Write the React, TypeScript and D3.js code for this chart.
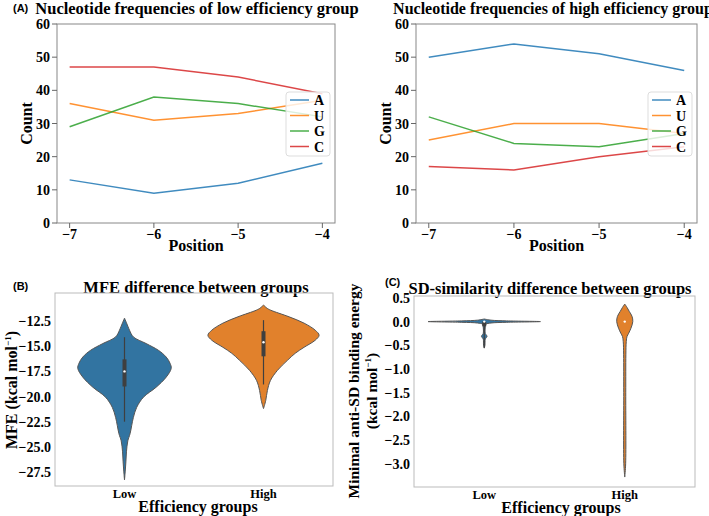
import React from "react";
import * as d3 from "d3";

// ---------- Data ----------
const positions = [-7, -6, -5, -4];
const nucleotides = ["A", "U", "G", "C"];
const lowA = [13, 9, 12, 18];
const lowU = [36, 31, 33, 37];
const lowG = [29, 38, 36, 32];
const lowC = [47, 47, 44, 39];
const highA = [50, 54, 51, 46];
const highU = [25, 30, 30, 27];
const highG = [32, 24, 23, 27];
const highC = [17, 16, 20, 23];
const countTicks = [0, 10, 20, 30, 40, 50, 60];

const groups = ["Low", "High"];
// violin profiles: [value, relative density]
const mfeLowProfile: [number, number][] = [
  [-12.2, 0], [-12.6, 0.03], [-13.0, 0.06], [-13.4, 0.09], [-14.07, 0.16], [-14.73, 0.39],
  [-15.4, 0.61], [-16.07, 0.75], [-16.7, 0.82], [-17.2, 0.84], [-18.07, 0.75], [-19.07, 0.57],
  [-20.07, 0.34], [-21.07, 0.22], [-22.07, 0.16], [-23.7, 0.1], [-24.4, 0.06], [-25.5, 0.035],
  [-26.5, 0.025], [-27.5, 0.012], [-28.3, 0],
];
const mfeHighProfile: [number, number][] = [
  [-10.9, 0], [-11.2, 0.06], [-11.4, 0.125], [-12.07, 0.46], [-12.7, 0.73], [-13.4, 0.93],
  [-13.9, 1.0], [-14.4, 0.93], [-15.1, 0.73], [-15.7, 0.57], [-16.4, 0.43], [-17.4, 0.25],
  [-18.4, 0.125], [-19.4, 0.07], [-20.4, 0.04], [-21.2, 0],
];
// inner box: [whiskerTop, q3, median, q1, whiskerBottom]
const mfeLowBox = [-14.1, -16.3, -17.5, -19.0, -22.5];
const mfeHighBox = [-12.4, -13.5, -14.6, -16.0, -18.8];
const mfeTicks = [-27.5, -25.0, -22.5, -20.0, -17.5, -15.0, -12.5];

const sdLowProfile: [number, number][] = [
  [0.055, 0], [0.03, 0.12], [0.015, 0.4], [0, 1.0], [-0.015, 0.4], [-0.03, 0.12],
  [-0.055, 0.03], [-0.1, 0.02], [-0.25, 0.018], [-0.28, 0.035], [-0.31, 0.05], [-0.34, 0.035],
  [-0.37, 0.018], [-0.5, 0.012], [-0.56, 0],
];
const sdHighProfile: [number, number][] = [
  [0.37, 0], [0.3, 0.04], [0.21, 0.083], [0.11, 0.13], [0, 0.143], [-0.14, 0.11],
  [-0.245, 0.07], [-0.316, 0.04], [-0.42, 0.027], [-0.7, 0.02], [-1.5, 0.018],
  [-3.0, 0.016], [-3.28, 0],
];
const sdLowBox = [0, 0, 0, -0.1, -0.55];
const sdHighBox = [0, 0, 0, 0, 0];
const sdTicks = [-3.0, -2.5, -2.0, -1.5, -1.0, -0.5, 0.0, 0.5];

// ---------- Styles ----------
const serif = "'Liberation Serif', 'Times New Roman', serif";
const sans = "'Liberation Sans', Arial, sans-serif";
const lineColors = ["#1f77b4", "#ff7f0e", "#2ca02c", "#d62728"];
const violinColors = ["#3274a1", "#e1812c"];

const fmtMinus = (s: string) => s.replace("-", "\u2212");

function LinePanel({ x0, x1, y0, y1, series, title, titleX, titleSize }: any) {
  const x = d3.scaleLinear().domain([-7.15, -3.85]).range([x0, x1]);
  const y = d3.scaleLinear().domain([0, 60]).range([y1, y0]);
  const line = d3.line<number>().x((_, i) => x(positions[i])).y((d) => y(d));
  const lx = x1 - 49;
  const ly = 92;
  return (
    <g>
      <text x={titleX} y={14} textAnchor="middle" fontFamily={serif} fontWeight="bold" fontSize={titleSize}>
        {title}
      </text>
      {series.map((s: number[], i: number) => (
        <path key={i} d={line(s) || ""} fill="none" stroke={lineColors[i]} strokeWidth={1.5} strokeOpacity={0.85} />
      ))}
      <rect x={x0} y={y0} width={x1 - x0} height={y1 - y0} fill="none" stroke="#888" strokeWidth={1} />
      {countTicks.map((t) => (
        <g key={t}>
          <line x1={x0 - 5} x2={x0} y1={y(t)} y2={y(t)} stroke="#666" />
          <text x={x0 - 7} y={y(t) + 5} textAnchor="end" fontFamily={serif} fontWeight="bold" fontSize={14}>
            {t}
          </text>
        </g>
      ))}
      {positions.map((p) => (
        <g key={p}>
          <line x1={x(p)} x2={x(p)} y1={y1} y2={y1 + 5} stroke="#666" />
          <text x={x(p)} y={y1 + 16} textAnchor="middle" fontFamily={serif} fontWeight="bold" fontSize={14}>
            {fmtMinus(String(p))}
          </text>
        </g>
      ))}
      <text x={(x0 + x1) / 2} y={y1 + 28} textAnchor="middle" fontFamily={serif} fontWeight="bold" fontSize={16}>
        Position
      </text>
      <text
        transform={`translate(${x0 - 25},${(y0 + y1) / 2}) rotate(-90)`}
        textAnchor="middle"
        fontFamily={serif}
        fontWeight="bold"
        fontSize={16}
      >
        Count
      </text>
      <rect x={lx} y={ly} width={44} height={64} rx={3} fill="white" fillOpacity={0.8} stroke="#ddd" />
      {nucleotides.map((n, i) => (
        <g key={n}>
          <line x1={lx + 4} x2={lx + 23} y1={ly + 8 + i * 15.5} y2={ly + 8 + i * 15.5} stroke={lineColors[i]} strokeWidth={1.5} strokeOpacity={0.85} />
          <text x={lx + 28} y={ly + 13 + i * 15.5} fontFamily={serif} fontWeight="bold" fontSize={14}>
            {n}
          </text>
        </g>
      ))}
    </g>
  );
}

function ViolinPanel({ x0, x1, y0, y1, domain, ticks, profiles, boxes, fmt, title, titleX, titleY, xlabelX }: any) {
  const x = d3.scaleBand().domain(groups).range([x0, x1]).paddingInner(0).paddingOuter(0);
  const y = d3.scaleLinear().domain(domain).range([y1, y0]);
  const half = x.bandwidth() * 0.4;
  const w = d3.scaleLinear().domain([0, 1]).range([0, half]);
  return (
    <g>
      <text x={titleX} y={titleY} textAnchor="middle" fontFamily={serif} fontWeight="bold" fontSize={16.5}>
        {title}
      </text>
      {groups.map((g, i) => {
        const cx = (x(g) || 0) + x.bandwidth() / 2;
        const area = d3
          .area<[number, number]>()
          .y((d) => y(d[0]))
          .x0((d) => cx - w(d[1]))
          .x1((d) => cx + w(d[1]))
          .curve(d3.curveCatmullRom.alpha(0.5));
        const b = boxes[i];
        return (
          <g key={g}>
            <path d={area(profiles[i]) || ""} fill={violinColors[i]} stroke="#555" strokeWidth={1} />
            <line x1={cx} x2={cx} y1={y(b[0])} y2={y(b[4])} stroke="#3f3f3f" strokeWidth={1.2} />
            <line x1={cx} x2={cx} y1={y(b[1])} y2={y(b[3])} stroke="#3f3f3f" strokeWidth={4} />
            <circle cx={cx} cy={y(b[2])} r={1.2} fill="white" />
          </g>
        );
      })}
      <rect x={x0} y={y0} width={x1 - x0} height={y1 - y0} fill="none" stroke="#bbb" strokeWidth={1} />
      {ticks.map((t: number) => (
        <text key={t} x={x0 - 4} y={y(t) + 5} textAnchor="end" fontFamily={serif} fontWeight="bold" fontSize={14}>
          {fmtMinus(fmt(t))}
        </text>
      ))}
      {groups.map((g) => (
        <text key={g} x={(x(g) || 0) + x.bandwidth() / 2} y={y1 + 12} textAnchor="middle" fontFamily={serif} fontWeight="bold" fontSize={12.5}>
          {g}
        </text>
      ))}
      <text x={xlabelX} y={y1 + 25.5} textAnchor="middle" fontFamily={serif} fontWeight="bold" fontSize={16}>
        Efficiency groups
      </text>
    </g>
  );
}

export default function App() {
  return (
    <svg width={709} height={516} style={{ position: "absolute", left: 0, top: 0, background: "white" }}>
      <rect width={709} height={516} fill="white" />
      <text x={13} y={12} fontFamily={sans} fontWeight="bold" fontSize={11}>(A)</text>
      <LinePanel x0={57} x1={335} y0={24} y1={223} series={[lowA, lowU, lowG, lowC]} title="Nucleotide frequencies of low efficiency group" titleX={197} titleSize={16.5} />
      <LinePanel x0={416} x1={697} y0={24} y1={223} series={[highA, highU, highG, highC]} title="Nucleotide frequencies of high efficiency group" titleX={553} titleSize={16} />

      <text x={13} y={290} fontFamily={sans} fontWeight="bold" fontSize={11}>(B)</text>
      <ViolinPanel
        x0={55} x1={333} y0={293} y1={486}
        domain={[-28.9, -9.7]}
        ticks={mfeTicks}
        profiles={[mfeLowProfile, mfeHighProfile]}
        boxes={[mfeLowBox, mfeHighBox]}
        fmt={(t: number) => t.toFixed(1)}
        title="MFE difference between groups" titleX={196} titleY={293}
        xlabelX={198}
      />
      <text transform="translate(17,390) rotate(-90)" textAnchor="middle" fontFamily={serif} fontWeight="bold" fontSize={16}>
        MFE (kcal mol<tspan dy={-6} fontSize={9}>−1</tspan><tspan dy={6}>)</tspan>
      </text>

      <text x={385} y={286} fontFamily={sans} fontWeight="bold" fontSize={11}>(C)</text>
      <ViolinPanel
        x0={414} x1={695} y0={296} y1={487}
        domain={[-3.49, 0.54]}
        ticks={sdTicks}
        profiles={[sdLowProfile, sdHighProfile]}
        boxes={[sdLowBox, sdHighBox]}
        fmt={(t: number) => t.toFixed(1)}
        title="SD-similarity difference between groups" titleX={550} titleY={294}
        xlabelX={561}
      />
      <text transform="translate(359,391) rotate(-90)" textAnchor="middle" fontFamily={serif} fontWeight="bold" fontSize={15.5}>
        Minimal anti-SD binding energy
      </text>
      <text transform="translate(377,391) rotate(-90)" textAnchor="middle" fontFamily={serif} fontWeight="bold" fontSize={15.5}>
        (kcal mol<tspan dy={-6} fontSize={9}>−1</tspan><tspan dy={6}>)</tspan>
      </text>
    </svg>
  );
}
